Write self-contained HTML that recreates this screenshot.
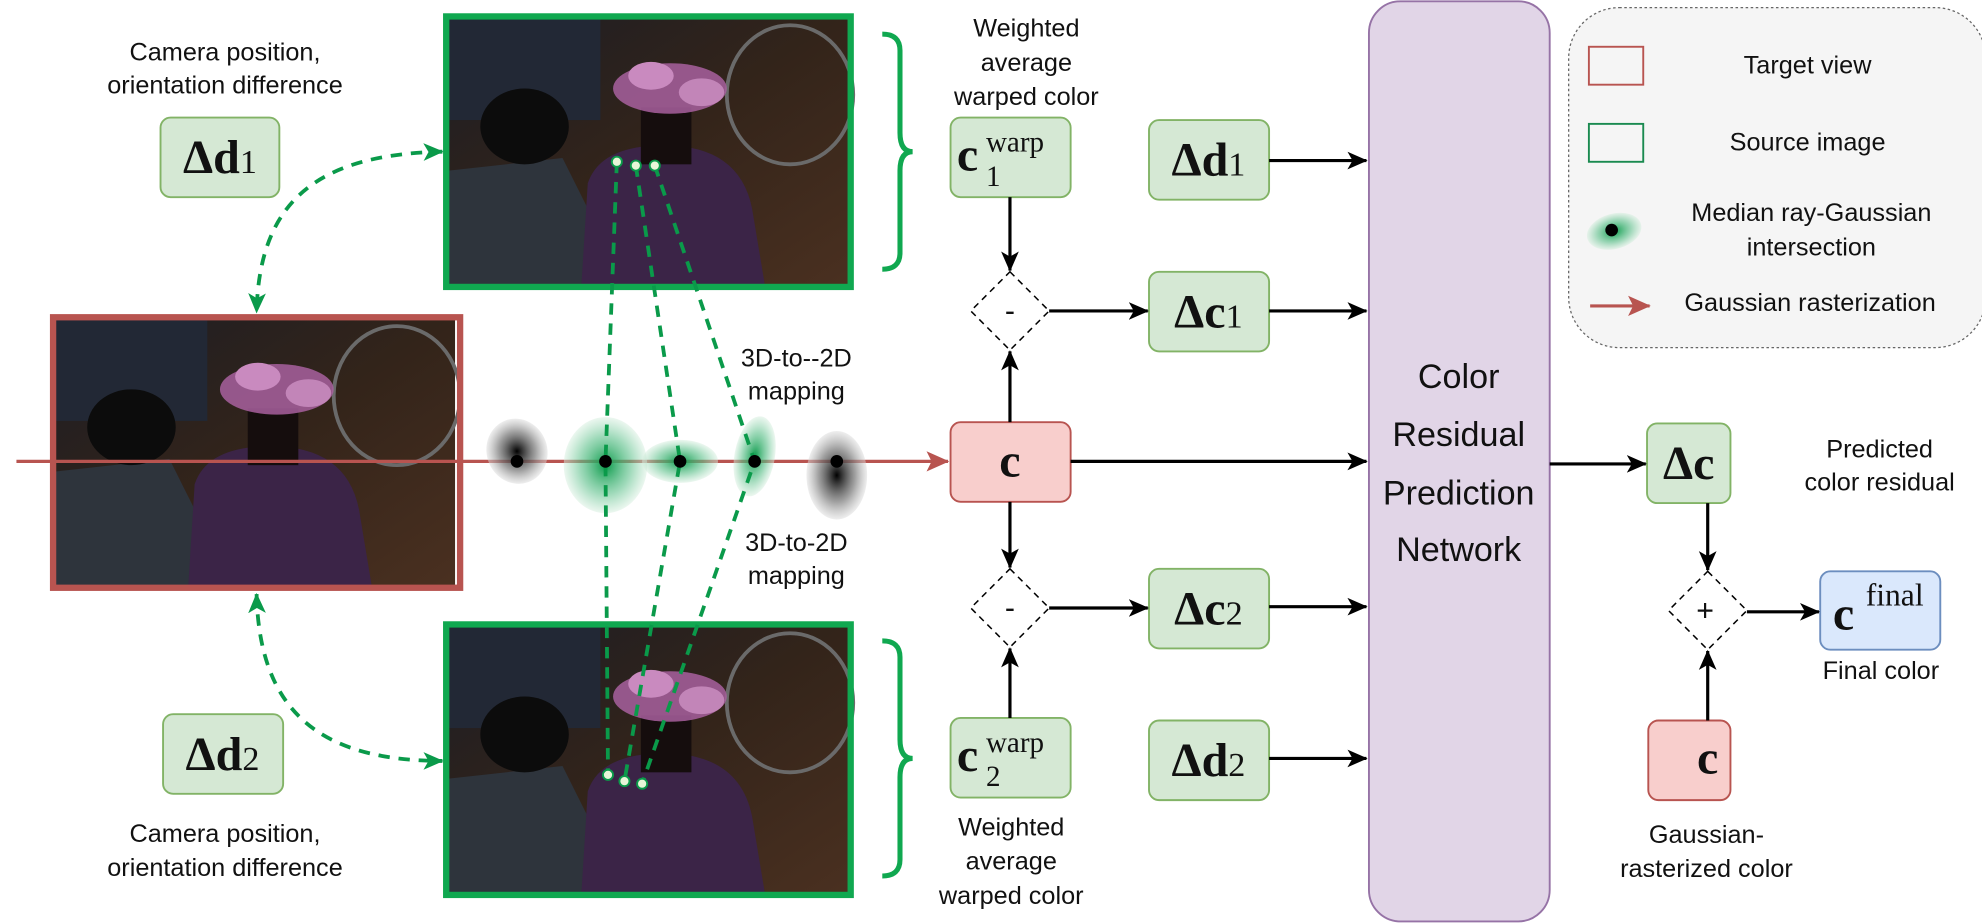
<!DOCTYPE html>
<html><head><meta charset="utf-8"><style>
html,body{margin:0;padding:0;background:#fff;}
svg{display:block;}
text{font-family:"Liberation Sans",sans-serif;fill:#111;}
.m{font-family:"Liberation Serif",serif;font-weight:bold;fill:#111;}
.s{font-family:"Liberation Serif",serif;font-weight:normal;fill:#111;}
</style></head><body>
<svg width="1982" height="924" viewBox="0 0 1568 731" preserveAspectRatio="none" xmlns="http://www.w3.org/2000/svg">
<defs>
<marker id="ak" markerWidth="16" markerHeight="16" refX="15" refY="8" orient="auto" markerUnits="userSpaceOnUse"><path d="M0,1 L16,8 L0,15 L4,8 Z" fill="#000"/></marker>
<marker id="ag" markerWidth="16" markerHeight="16" refX="15" refY="8" orient="auto-start-reverse" markerUnits="userSpaceOnUse"><path d="M0,1 L16,8 L0,15 L4,8 Z" fill="#0a9a4a"/></marker>
<marker id="ar" markerWidth="18" markerHeight="18" refX="17" refY="9" orient="auto" markerUnits="userSpaceOnUse"><path d="M0,1 L18,9 L0,17 L4,9 Z" fill="#b85450"/></marker>
<radialGradient id="gg"><stop offset="0" stop-color="#0a9a4a"/><stop offset="0.6" stop-color="#5cc08a" stop-opacity="0.6"/><stop offset="1" stop-color="#d8efe0" stop-opacity="0.5"/></radialGradient>
<radialGradient id="gk"><stop offset="0" stop-color="#000"/><stop offset="0.6" stop-color="#777" stop-opacity="0.7"/><stop offset="1" stop-color="#ddd" stop-opacity="0.5"/></radialGradient>
<linearGradient id="floor" x1="0" y1="0" x2="1" y2="1"><stop offset="0" stop-color="#1c1d24"/><stop offset="0.5" stop-color="#33241a"/><stop offset="1" stop-color="#4a3020"/></linearGradient>
<g id="photo">
<rect x="0" y="0" width="316" height="210" fill="url(#floor)"/>
<rect x="0" y="0" width="120" height="80" fill="#222835"/>
<ellipse cx="270" cy="60" rx="50" ry="55" fill="none" stroke="#6a6a6a" stroke-width="3"/>
<path d="M0,120 L90,110 L140,210 L0,210 Z" fill="#2e343c"/>
<ellipse cx="60" cy="85" rx="35" ry="30" fill="#0c0c0c"/>
<path d="M110,130 Q120,100 170,100 Q230,100 240,150 L250,210 L105,210 Z" fill="#3b2447"/>
<rect x="152" y="70" width="40" height="45" fill="#150d0d"/>
<ellipse cx="175" cy="55" rx="45" ry="20" fill="#a8609f" opacity="0.85"/>
<ellipse cx="160" cy="45" rx="18" ry="11" fill="#c98abf"/>
<ellipse cx="200" cy="58" rx="18" ry="11" fill="#c285b8"/>
</g>
</defs>

<!-- legend -->
<rect x="1241" y="6" width="330" height="269" rx="40" fill="#f5f5f5" stroke="#666" stroke-dasharray="2,2"/>
<rect x="1257" y="37" width="43" height="30" fill="none" stroke="#b85450" stroke-width="1.5"/>
<text x="1430" y="58" font-size="20" text-anchor="middle">Target view</text>
<rect x="1257" y="98" width="43" height="30" fill="none" stroke="#1a8a50" stroke-width="1.5"/>
<text x="1430" y="119" font-size="20" text-anchor="middle">Source image</text>
<ellipse cx="1277" cy="183" rx="22" ry="14" fill="url(#gg)" transform="rotate(-15 1277 183)"/>
<circle cx="1275" cy="182" r="5" fill="#000"/>
<text x="1433" y="175" font-size="20" text-anchor="middle">Median ray-Gaussian</text>
<text x="1433" y="202" font-size="20" text-anchor="middle">intersection</text>
<line x1="1258" y1="242" x2="1305" y2="242" stroke="#b85450" stroke-width="2.5" marker-end="url(#ar)"/>
<text x="1432" y="246" font-size="20" text-anchor="middle">Gaussian rasterization</text>

<!-- images -->
<use href="#photo" x="44" y="253"/>
<rect x="42" y="251" width="322" height="214" fill="none" stroke="#b85450" stroke-width="5"/>
<use href="#photo" x="355" y="15"/>
<rect x="353" y="13" width="320" height="214" fill="none" stroke="#10a850" stroke-width="5"/>
<use href="#photo" x="355" y="496"/>
<rect x="353" y="494" width="320" height="214" fill="none" stroke="#10a850" stroke-width="5"/>

<!-- red ray -->
<line x1="13" y1="365" x2="750" y2="365" stroke="#b85450" stroke-width="2.5" marker-end="url(#ar)"/>

<!-- gaussians -->
<ellipse cx="409" cy="357" rx="24" ry="26" fill="url(#gk)" transform="rotate(-20 409 357)"/>
<ellipse cx="479" cy="368" rx="33" ry="38" fill="url(#gg)"/>
<ellipse cx="538" cy="365" rx="30" ry="17" fill="url(#gg)"/>
<ellipse cx="597" cy="361" rx="16" ry="32" fill="url(#gg)" transform="rotate(10 597 361)"/>
<ellipse cx="662" cy="376" rx="24" ry="35" fill="url(#gk)"/>

<!-- dashed projection lines -->
<g stroke="#0a9a4a" stroke-width="3" stroke-dasharray="9,7" fill="none">
<polyline points="488,128 479,365 481,613"/>
<polyline points="503,131 538,365 494,618"/>
<polyline points="518,131 597,365 508,620"/>
<path d="M350,120 C250,122 205,160 203,247" marker-start="url(#ag)" marker-end="url(#ag)"/>
<path d="M203,470 C205,560 250,602 350,602" marker-start="url(#ag)" marker-end="url(#ag)"/>
</g>
<g fill="#e7f6d8" stroke="#0a9a4a" stroke-width="1.5">
<circle cx="488" cy="128" r="4"/><circle cx="503" cy="131" r="4"/><circle cx="518" cy="131" r="4"/>
<circle cx="481" cy="613" r="4"/><circle cx="494" cy="618" r="4"/><circle cx="508" cy="620" r="4"/>
</g>
<g fill="#000"><circle cx="409" cy="365" r="5"/><circle cx="479" cy="365" r="5"/><circle cx="538" cy="365" r="5"/><circle cx="597" cy="365" r="5"/><circle cx="662" cy="365" r="5"/></g>

<text x="630" y="290" font-size="20" text-anchor="middle">3D-to--2D</text>
<text x="630" y="316" font-size="20" text-anchor="middle">mapping</text>
<text x="630" y="436" font-size="20" text-anchor="middle">3D-to-2D</text>
<text x="630" y="462" font-size="20" text-anchor="middle">mapping</text>

<!-- left labels -->
<text x="178" y="48" font-size="20" text-anchor="middle">Camera position,</text>
<text x="178" y="74" font-size="20" text-anchor="middle">orientation difference</text>
<text x="178" y="666" font-size="20" text-anchor="middle">Camera position,</text>
<text x="178" y="693" font-size="20" text-anchor="middle">orientation difference</text>

<g stroke="#82b366" stroke-width="1.5" fill="#d5e8d4">
<rect x="127" y="93" width="94" height="63" rx="8"/>
<rect x="129" y="565" width="95" height="63" rx="8"/>
<rect x="752" y="93" width="95" height="63" rx="8"/>
<rect x="752" y="568" width="95" height="63" rx="8"/>
<rect x="909" y="95" width="95" height="63" rx="8"/>
<rect x="909" y="215" width="95" height="63" rx="8"/>
<rect x="909" y="450" width="95" height="63" rx="8"/>
<rect x="909" y="570" width="95" height="63" rx="8"/>
<rect x="1303" y="335" width="66" height="63" rx="8"/>
</g>
<g stroke="#b85450" stroke-width="1.5" fill="#f8cecc">
<rect x="752" y="334" width="95" height="63" rx="8"/>
<rect x="1304" y="570" width="65" height="63" rx="8"/>
</g>
<rect x="1440" y="452" width="95" height="62" rx="8" fill="#dae8fc" stroke="#6c8ebf" stroke-width="1.5"/>
<rect x="1083" y="1" width="143" height="728" rx="25" fill="#e1d5e7" stroke="#9673a6" stroke-width="1.5"/>

<!-- math labels -->
<g font-size="38">
<text x="174" y="137" class="m" text-anchor="middle">Δd<tspan class="s" font-size="27">1</tspan></text>
<text x="176" y="609" class="m" text-anchor="middle">Δd<tspan class="s" font-size="27">2</tspan></text>
<text x="956" y="139" class="m" text-anchor="middle">Δd<tspan class="s" font-size="27">1</tspan></text>
<text x="956" y="259" class="m" text-anchor="middle">Δc<tspan class="s" font-size="27">1</tspan></text>
<text x="956" y="494" class="m" text-anchor="middle">Δc<tspan class="s" font-size="27">2</tspan></text>
<text x="956" y="614" class="m" text-anchor="middle">Δd<tspan class="s" font-size="27">2</tspan></text>
<text x="1336" y="379" class="m" text-anchor="middle">Δc</text>
<text x="799" y="377" class="m" text-anchor="middle">c</text>
<text x="1351" y="612" class="m" text-anchor="middle">c</text>
<text x="757" y="135" class="m">c</text>
<text x="757" y="610" class="m">c</text>
<text x="1450" y="498" class="m">c</text>
</g>
<g font-size="23">
<text x="780" y="120" class="s">warp</text>
<text x="780" y="147" class="s">1</text>
<text x="780" y="595" class="s">warp</text>
<text x="780" y="622" class="s">2</text>
<text x="1476" y="479" class="s" font-size="25">final</text>
</g>

<text x="812" y="29" font-size="20" text-anchor="middle">Weighted</text>
<text x="812" y="56" font-size="20" text-anchor="middle">average</text>
<text x="812" y="83" font-size="20" text-anchor="middle">warped color</text>
<text x="800" y="661" font-size="20" text-anchor="middle">Weighted</text>
<text x="800" y="688" font-size="20" text-anchor="middle">average</text>
<text x="800" y="715" font-size="20" text-anchor="middle">warped color</text>

<!-- braces -->
<g fill="none" stroke="#10a850" stroke-width="4">
<path d="M698,27 Q712,27 712,40 L712,105 Q712,120 722,120 Q712,120 712,135 L712,200 Q712,213 698,213"/>
<path d="M698,507 Q712,507 712,520 L712,585 Q712,600 722,600 Q712,600 712,615 L712,680 Q712,693 698,693"/>
</g>

<!-- diamonds -->
<g fill="#fff" stroke="#000" stroke-width="1.2" stroke-dasharray="5,4">
<polygon points="799,215 830,246 799,277 768,246"/>
<polygon points="799,450 830,481 799,512 768,481"/>
<polygon points="1351,452 1382,483 1351,514 1320,483"/>
</g>
<text x="799" y="254" font-size="24" text-anchor="middle">-</text>
<text x="799" y="489" font-size="24" text-anchor="middle">-</text>
<text x="1349" y="491" font-size="24" text-anchor="middle">+</text>

<!-- arrows -->
<g stroke="#000" stroke-width="2.5" marker-end="url(#ak)" fill="none">
<line x1="799" y1="156" x2="799" y2="214"/>
<line x1="799" y1="334" x2="799" y2="278"/>
<line x1="799" y1="397" x2="799" y2="449"/>
<line x1="799" y1="568" x2="799" y2="513"/>
<line x1="830" y1="246" x2="908" y2="246"/>
<line x1="830" y1="481" x2="908" y2="481"/>
<line x1="1004" y1="127" x2="1081" y2="127"/>
<line x1="1004" y1="246" x2="1081" y2="246"/>
<line x1="847" y1="365" x2="1081" y2="365"/>
<line x1="1004" y1="480" x2="1081" y2="480"/>
<line x1="1004" y1="600" x2="1081" y2="600"/>
<line x1="1226" y1="367" x2="1302" y2="367"/>
<line x1="1351" y1="398" x2="1351" y2="451"/>
<line x1="1382" y1="484" x2="1439" y2="484"/>
<line x1="1351" y1="570" x2="1351" y2="515"/>
</g>

<g font-size="27" text-anchor="middle">
<text x="1154" y="307">Color</text>
<text x="1154" y="353">Residual</text>
<text x="1154" y="399">Prediction</text>
<text x="1154" y="444">Network</text>
</g>
<text x="1487" y="362" font-size="20" text-anchor="middle">Predicted</text>
<text x="1487" y="388" font-size="20" text-anchor="middle">color residual</text>
<text x="1488" y="537" font-size="20" text-anchor="middle">Final color</text>
<text x="1350" y="667" font-size="20" text-anchor="middle">Gaussian-</text>
<text x="1350" y="694" font-size="20" text-anchor="middle">rasterized color</text>
</svg>
</body></html>
